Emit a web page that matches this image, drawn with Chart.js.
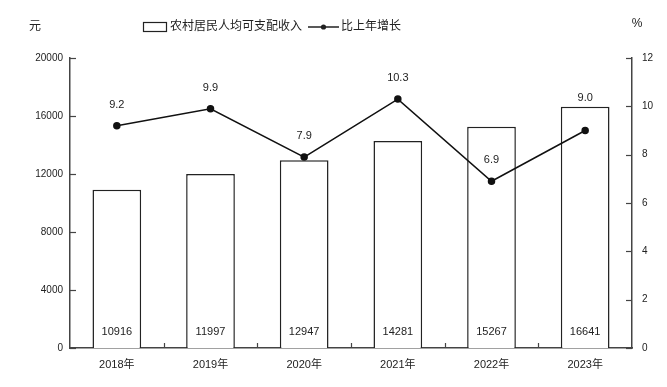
<!DOCTYPE html>
<html lang="zh">
<head>
<meta charset="UTF-8">
<title>农村居民人均可支配收入</title>
<style type="text/css">
  body { margin: 0; background: #fff; }
  .chartBox { width: 667px; height: 387px; }
</style>
</head>
<body>
<div class="chartBox">
  <canvas id="myChart" width="667" height="387"></canvas>
</div>

<script src="https://cdn.jsdelivr.net/npm/chart.js"></script>
<script>
const years = ['2018年', '2019年', '2020年', '2021年', '2022年', '2023年'];
const income = [10916, 11997, 12947, 14281, 15267, 16641];
const growth = [9.2, 9.9, 7.9, 10.3, 6.9, 9.0];
const incomeName = '农村居民人均可支配收入';
const growthName = '比上年增长';

const FONT = "'Liberation Sans', 'Noto Sans CJK SC', sans-serif";
const TEXT = '#222';
const AXIS = '#444';

// legend, units, inner tick marks, value labels
const decor = {
  id: 'decor',
  afterDraw(chart) {
    const c = chart.ctx;
    const yL = chart.scales.y;
    const yR = chart.scales.y1;
    const x = chart.scales.x;
    const area = chart.chartArea;
    c.save();
    c.fillStyle = TEXT;
    c.font = '12px ' + FONT;
    c.textBaseline = 'middle';
    c.textAlign = 'center';
    c.fillText('元', 35, 27);
    c.fillText('%', 637, 24);

    // legend
    c.strokeStyle = '#222';
    c.lineWidth = 1.2;
    c.strokeRect(143.5, 22.5, 23, 9);
    c.textAlign = 'left';
    c.fillText(incomeName, 170, 27);
    c.beginPath();
    c.lineWidth = 1.5;
    c.moveTo(308, 27);
    c.lineTo(339, 27);
    c.stroke();
    c.beginPath();
    c.arc(323.5, 27, 2.6, 0, Math.PI * 2);
    c.fill();
    c.fillText(growthName, 341, 27);

    // tick marks inside the plot
    c.strokeStyle = AXIS;
    c.lineWidth = 1.2;
    yL.ticks.forEach(t => {
      const py = Math.round(yL.getPixelForValue(t.value)) + 0.5;
      c.beginPath();
      c.moveTo(area.left, py);
      c.lineTo(area.left + 6, py);
      c.stroke();
    });
    yR.ticks.forEach(t => {
      const py = Math.round(yR.getPixelForValue(t.value)) + 0.5;
      c.beginPath();
      c.moveTo(area.right, py);
      c.lineTo(area.right - 6, py);
      c.stroke();
    });
    for (let i = 1; i < years.length; i++) {
      const px = Math.round((x.getPixelForValue(i - 1) + x.getPixelForValue(i)) / 2) + 0.5;
      c.beginPath();
      c.moveTo(px, area.bottom);
      c.lineTo(px, area.bottom - 5);
      c.stroke();
    }

    // value labels
    c.font = '11px ' + FONT;
    c.textAlign = 'center';
    const bars = chart.getDatasetMeta(0).data;
    bars.forEach((b, i) => {
      c.fillText(String(income[i]), b.x, yL.getPixelForValue(0) - 16);
    });
    const pts = chart.getDatasetMeta(1).data;
    pts.forEach((p, i) => {
      let ly = p.y - 21;
      const top = bars[i].y;
      // keep the label clear of the bar's top edge
      if (Math.abs(ly - top) < 9) ly = top - 9;
      c.fillText(growth[i].toFixed(1), p.x, ly);
    });
    c.restore();
  }
};

const ctx = document.getElementById('myChart');
new Chart(ctx, {
  data: {
    labels: years,
    datasets: [{
      type: 'bar',
      label: incomeName,
      data: income,
      yAxisID: 'y',
      backgroundColor: '#fff',
      borderColor: '#222',
      borderWidth: 1.5,
      barPercentage: 0.52,
      categoryPercentage: 1,
      order: 2
    }, {
      type: 'line',
      label: growthName,
      data: growth,
      yAxisID: 'y1',
      borderColor: '#111',
      borderWidth: 1.5,
      pointRadius: 3,
      pointBackgroundColor: '#111',
      pointBorderColor: '#111',
      tension: 0,
      order: 1
    }]
  },
  options: {
    responsive: false,
    animation: false,
    layout: { padding: { top: 58, right: 0, left: 0, bottom: 0 } },
    plugins: {
      legend: { display: false },
      tooltip: { enabled: false }
    },
    scales: {
      x: {
        grid: { display: false, drawTicks: false },
        border: { color: AXIS, width: 1.5 },
        ticks: { color: TEXT, font: { size: 11, family: FONT }, padding: 10 },
        afterFit(s) { s.height = 39; }
      },
      y: {
        position: 'left',
        min: 0,
        max: 20000,
        ticks: { stepSize: 4000, color: TEXT, font: { size: 10, family: FONT }, padding: 7,
                 callback: v => String(v) },
        grid: { display: false, drawTicks: false },
        border: { color: AXIS, width: 1.5 },
        afterFit(s) { s.width = 70; }
      },
      y1: {
        position: 'right',
        min: 0,
        max: 12,
        ticks: { stepSize: 2, color: TEXT, font: { size: 10, family: FONT }, padding: 10 },
        grid: { display: false, drawTicks: false },
        border: { color: AXIS, width: 1.5 },
        afterFit(s) { s.width = 35; }
      }
    }
  },
  plugins: [decor]
});
</script>
</body>
</html>
